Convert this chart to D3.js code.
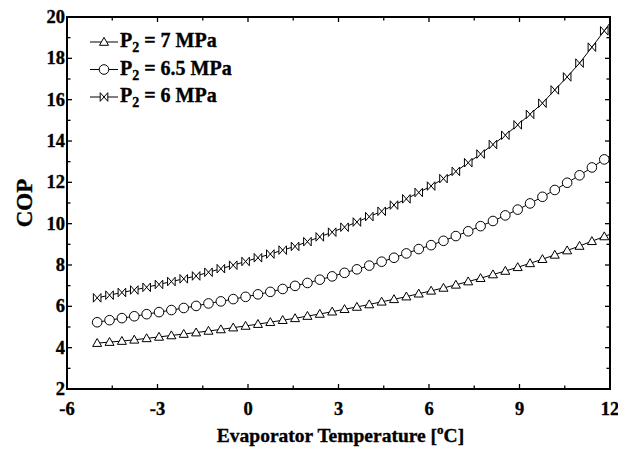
<!DOCTYPE html>
<html>
<head>
<meta charset="utf-8">
<script src="https://cdn.jsdelivr.net/npm/d3@7"></script>
<style>
  body { margin: 0; background: #fff; }
  svg text { font-family: "Liberation Serif", "Times New Roman", serif; font-weight: bold; fill: #000;
    stroke: #000; stroke-width: 0.35px; }
</style>
</head>
<body>
<div id="chart"></div>
<script>
// evaporator temperature [°C]
const temps = [-5.00, -4.59, -4.18, -3.77, -3.36, -2.95, -2.54, -2.13, -1.72, -1.31, -0.90, -0.49, -0.08,
  0.33, 0.74, 1.15, 1.56, 1.97, 2.38, 2.79, 3.20, 3.61, 4.02, 4.43, 4.84, 5.25, 5.66, 6.07, 6.48, 6.89,
  7.30, 7.71, 8.12, 8.53, 8.94, 9.35, 9.76, 10.17, 10.58, 10.99, 11.40, 11.81, 12.22];

// COP, P2 = 7 MPa
const cop7 = [4.22, 4.27, 4.32, 4.38, 4.45, 4.52, 4.59, 4.66, 4.73, 4.81, 4.88, 4.97, 5.05,
  5.14, 5.23, 5.33, 5.42, 5.53, 5.63, 5.74, 5.86, 5.97, 6.09, 6.22, 6.34, 6.47, 6.61, 6.75, 6.89, 7.04,
  7.20, 7.36, 7.54, 7.71, 7.89, 8.08, 8.28, 8.49, 8.70, 8.92, 9.15, 9.38, 9.61];

// COP, P2 = 6.5 MPa
const cop65 = [5.23, 5.33, 5.43, 5.52, 5.62, 5.72, 5.82, 5.92, 6.02, 6.14, 6.24, 6.35, 6.46,
  6.58, 6.70, 6.84, 6.99, 7.13, 7.29, 7.45, 7.62, 7.79, 7.97, 8.16, 8.35, 8.56, 8.77, 8.96, 9.17, 9.40,
  9.63, 9.88, 10.13, 10.40, 10.68, 10.98, 11.30, 11.63, 11.98, 12.34, 12.72, 13.11, 13.50];

// COP, P2 = 6 MPa
const cop6 = [6.41, 6.54, 6.67, 6.79, 6.92, 7.06, 7.20, 7.33, 7.47, 7.65, 7.82, 7.99, 8.17,
  8.35, 8.53, 8.72, 8.90, 9.13, 9.36, 9.59, 9.83, 10.08, 10.34, 10.60, 10.90, 11.20, 11.51, 11.82, 12.18, 12.53,
  12.95, 13.37, 13.83, 14.28, 14.78, 15.29, 15.83, 16.47, 17.10, 17.77, 18.54, 19.33, 20.17];

const xTicks = [-6, -3, 0, 3, 6, 9, 12];
const yTicks = [2, 4, 6, 8, 10, 12, 14, 16, 18, 20];

const series = [
  { label: '7', values: cop7, marker: 'triangle' },
  { label: '6.5', values: cop65, marker: 'circle' },
  { label: '6', values: cop6, marker: 'bowtie' }
];

const W = 618, H = 452;
const margin = { top: 17, right: 8, bottom: 63, left: 67 },
  width = W - margin.left - margin.right,
  height = H - margin.top - margin.bottom;

const x = d3.scaleLinear().domain([-6, 12]).range([0, width]);
const y = d3.scaleLinear().domain([2, 20]).range([height, 0]);

const svg = d3.select('#chart').append('svg')
  .attr('width', W).attr('height', H);

const g = svg.append('g')
  .attr('transform', `translate(${margin.left},${margin.top})`);

g.append('clipPath').attr('id', 'clip')
  .append('rect').attr('width', width).attr('height', height);

// marker shapes
function drawMarker(sel, type) {
  if (type === 'circle') {
    sel.append('circle').attr('r', 4.8);
  } else if (type === 'triangle') {
    sel.append('path').attr('d', 'M0,-4.6L4.5,3.3L-4.5,3.3Z');
  } else {
    sel.append('path').attr('d', 'M-3.8,-4.3L3.8,4.3L3.8,-4.3L-3.8,4.3Z');
  }
}

// ticks (inward, on all four sides)
const xMinor = d3.range(-6, 12.01, 1.5);
const yMinor = d3.range(2, 20.01, 1);
const tickG = g.append('g').attr('stroke', '#000').attr('stroke-width', 1.3);
xMinor.forEach(v => {
  const len = xTicks.includes(v) ? 5 : 3.5;
  tickG.append('line').attr('x1', x(v)).attr('x2', x(v)).attr('y1', height).attr('y2', height - len);
  tickG.append('line').attr('x1', x(v)).attr('x2', x(v)).attr('y1', 0).attr('y2', len);
});
yMinor.forEach(v => {
  const len = yTicks.includes(v) ? 5 : 3.5;
  tickG.append('line').attr('y1', y(v)).attr('y2', y(v)).attr('x1', 0).attr('x2', len);
  tickG.append('line').attr('y1', y(v)).attr('y2', y(v)).attr('x1', width).attr('x2', width - len);
});

// tick labels
g.append('g').selectAll('text').data(xTicks).join('text')
  .attr('x', d => x(d)).attr('y', height + 26)
  .attr('text-anchor', 'middle').attr('font-size', 18.5)
  .text(d => d);
g.append('g').selectAll('text').data(yTicks).join('text')
  .attr('x', -2).attr('y', d => y(d) + 6)
  .attr('text-anchor', 'end').attr('font-size', 18.5)
  .text(d => d);

// curves
const line = d3.line().x(d => x(d[0])).y(d => y(d[1]));
const plot = g.append('g').attr('clip-path', 'url(#clip)');
series.forEach(s => {
  const pts = temps.map((t, i) => [t, s.values[i]]);
  plot.append('path').datum(pts)
    .attr('fill', 'none').attr('stroke', '#000').attr('stroke-width', 1)
    .attr('d', line);
  const m = plot.append('g').attr('fill', '#fff').attr('stroke', '#000').attr('stroke-width', 1)
    .selectAll('g').data(pts).join('g')
    .attr('transform', d => `translate(${x(d[0])},${y(d[1])})`);
  drawMarker(m, s.marker);
});

// frame
g.append('rect').attr('width', width).attr('height', height)
  .attr('fill', 'none').attr('stroke', '#000').attr('stroke-width', 2);

// legend
const leg = g.append('g').attr('transform', 'translate(23,25)');
series.forEach((s, i) => {
  const row = leg.append('g').attr('transform', `translate(0,${i * 27.5})`);
  row.append('line').attr('x1', 0).attr('x2', 28).attr('stroke', '#000').attr('stroke-width', 1);
  const mk = row.append('g').attr('transform', 'translate(14,0)')
    .attr('fill', '#fff').attr('stroke', '#000').attr('stroke-width', 1);
  drawMarker(mk, s.marker);
  const t = row.append('text').attr('x', 30).attr('y', 5).attr('font-size', 20);
  t.append('tspan').text('P');
  t.append('tspan').attr('font-size', 14).attr('dy', 5).text('2');
  t.append('tspan').attr('dy', -5).text(` = ${s.label} MPa`);
});

// axis titles
const xt = svg.append('text')
  .attr('x', margin.left + width / 2 + 2).attr('y', 442)
  .attr('text-anchor', 'middle').attr('font-size', 19.5);
xt.append('tspan').text('Evaporator Temperature [');
xt.append('tspan').attr('font-size', 13).attr('dy', -8).text('o');
xt.append('tspan').attr('dy', 8).text('C]');

svg.append('text')
  .attr('transform', `translate(32,${margin.top + height / 2}) rotate(-90)`)
  .attr('text-anchor', 'middle').attr('font-size', 23)
  .text('COP');
</script>
</body>
</html>
